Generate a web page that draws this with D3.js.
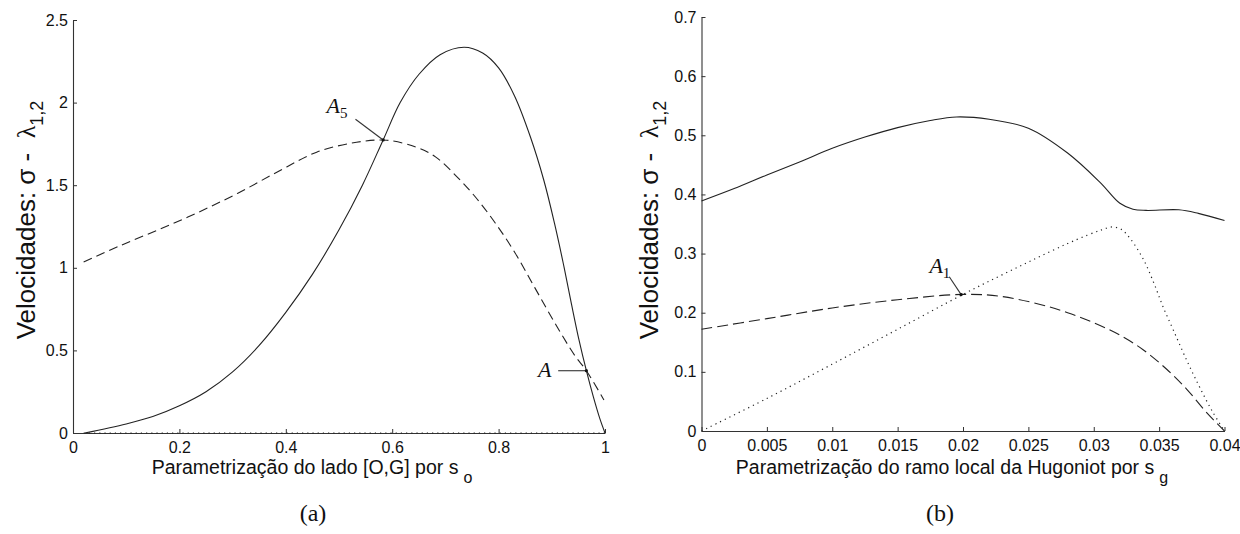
<!DOCTYPE html>
<html>
<head>
<meta charset="utf-8">
<script src="https://cdn.jsdelivr.net/npm/d3@7/dist/d3.min.js"></script>
<style>
  body { margin: 0; background: #fff; }
  svg text { fill: #111; }
</style>
</head>
<body>
<svg id="fig" width="1240" height="534"></svg>
<script>
var SANS = "Liberation Sans, Arial, sans-serif";
var SERIF = "Liberation Serif, Times New Roman, serif";

// ---- panel (a): lado [O,G]
var aTicksX = [0, 0.2, 0.4, 0.6, 0.8, 1];
var aTicksY = [0, 0.5, 1, 1.5, 2, 2.5];
var aSolidX = [0.022, 0.1, 0.15, 0.2, 0.25, 0.3, 0.35, 0.4, 0.45, 0.5, 0.544, 0.583, 0.615, 0.65, 0.69, 0.735, 0.77, 0.8, 0.83, 0.86, 0.885, 0.905, 0.922, 0.937, 0.951, 0.965, 0.978, 0.99, 1.0];
var aSolidY = [0, 0.055, 0.1, 0.165, 0.25, 0.37, 0.53, 0.73, 0.96, 1.23, 1.5, 1.774, 2.0, 2.17, 2.29, 2.335, 2.30, 2.21, 2.04, 1.79, 1.53, 1.27, 1.02, 0.78, 0.565, 0.377, 0.22, 0.09, 0];
var aDashX = [0.02, 0.086, 0.16, 0.235, 0.309, 0.384, 0.458, 0.533, 0.59, 0.645, 0.682, 0.719, 0.756, 0.794, 0.831, 0.868, 0.905, 0.943, 0.965, 0.998];
var aDashY = [1.035, 1.13, 1.23, 1.335, 1.45, 1.58, 1.70, 1.76, 1.772, 1.73, 1.67, 1.56, 1.43, 1.27, 1.09, 0.88, 0.67, 0.47, 0.377, 0.20];
var aDotX = [0.02, 1.0];
var aDotY = [0, 0];

// ---- panel (b): ramo local da Hugoniot
var bTicksX = [0, 0.005, 0.01, 0.015, 0.02, 0.025, 0.03, 0.035, 0.04];
var bTicksY = [0, 0.1, 0.2, 0.3, 0.4, 0.5, 0.6, 0.7];
var bSolidX = [0, 0.0025, 0.005, 0.0075, 0.01, 0.0125, 0.015, 0.0175, 0.0195, 0.022, 0.025, 0.028, 0.0305, 0.032, 0.033, 0.034, 0.0365, 0.038, 0.04];
var bSolidY = [0.389, 0.41, 0.433, 0.455, 0.478, 0.497, 0.513, 0.525, 0.531, 0.527, 0.512, 0.47, 0.42, 0.385, 0.375, 0.373, 0.374, 0.368, 0.356];
var bDashX = [0, 0.005, 0.01, 0.015, 0.02, 0.0228, 0.0259, 0.028, 0.03, 0.032, 0.0338, 0.0356, 0.0371, 0.0386, 0.04];
var bDashY = [0.172, 0.19, 0.208, 0.222, 0.231, 0.228, 0.214, 0.2, 0.183, 0.162, 0.137, 0.104, 0.071, 0.032, 0];
var bDotX = [0, 0.005, 0.01, 0.015, 0.02, 0.0228, 0.0254, 0.0279, 0.0295, 0.0306, 0.0314, 0.0321, 0.0328, 0.0338, 0.0346, 0.0353, 0.0361, 0.0371, 0.0381, 0.0391, 0.04];
var bDotY = [0, 0.055, 0.113, 0.172, 0.231, 0.262, 0.29, 0.316, 0.331, 0.340, 0.345, 0.341, 0.325, 0.29, 0.25, 0.21, 0.17, 0.12, 0.074, 0.032, 0];

// annotations: [label, subscript, text x, text y, line from x, y, to x, y]
var aNotes = [
  ["A", "5", 0.4765, 1.939, 0.531, 1.899, 0.583, 1.774],
  ["A", "",  0.874, 0.34, 0.912, 0.377, 0.965, 0.377]
];
var bNotes = [
  ["A", "1", 0.01743, 0.2666, 0.01895, 0.2608, 0.01986, 0.2306]
];

var svg = d3.select("#fig");

function zip(xs, ys) {
  return xs.map(function(x, i) { return [x, ys[i]]; });
}

function panel(opt) {
  var x = d3.scaleLinear().domain(opt.xDomain).range(opt.xRange);
  var y = d3.scaleLinear().domain(opt.yDomain).range(opt.yRange);
  var g = svg.append("g");

  var line = d3.line()
      .x(function(d) { return x(d[0]); })
      .y(function(d) { return y(d[1]); })
      .curve(d3.curveCatmullRom.alpha(0.5));

  // axes, ticks pointing inward (matlab style, no box)
  var xAxis = g.append("g")
      .attr("transform", "translate(0," + opt.yRange[0] + ")")
      .call(d3.axisBottom(x).tickValues(opt.ticksX).tickSizeInner(-4).tickSizeOuter(0)
        .tickPadding(9).tickFormat(d3.format("~g")));
  var yAxis = g.append("g")
      .attr("transform", "translate(" + opt.xRange[0] + ",0)")
      .call(d3.axisLeft(y).tickValues(opt.ticksY).tickSizeInner(-4).tickSizeOuter(0)
        .tickPadding(5).tickFormat(d3.format("~g")));
  [xAxis, yAxis].forEach(function(a) {
    a.select(".domain").attr("stroke", "#333").attr("stroke-width", 1.1);
    a.selectAll(".tick line").attr("stroke", "#333");
    a.selectAll(".tick text").style("font-size", "16px")
        .style("font-family", SANS).attr("fill", "#111");
  });

  g.append("path").datum(opt.dot).attr("d", line)
      .attr("fill", "none").attr("stroke", "#222").attr("stroke-width", 1.2)
      .attr("stroke-dasharray", "1.2,4");
  g.append("path").datum(opt.dash).attr("d", line)
      .attr("fill", "none").attr("stroke", "#222").attr("stroke-width", 1.1)
      .attr("stroke-dasharray", opt.dashPattern);
  g.append("path").datum(opt.solid).attr("d", line)
      .attr("fill", "none").attr("stroke", "#222").attr("stroke-width", 1.1);

  opt.notes.forEach(function(n) {
    g.append("line")
        .attr("x1", x(n[4])).attr("y1", y(n[5]))
        .attr("x2", x(n[6])).attr("y2", y(n[7]))
        .attr("stroke", "#333").attr("stroke-width", 1.1);
    g.append("circle").attr("cx", x(n[6])).attr("cy", y(n[7])).attr("r", 1.6).attr("fill", "#111");
    var t = g.append("text")
        .attr("x", x(n[2])).attr("y", y(n[3]))
        .style("font-family", SERIF)
        .style("font-style", "italic").style("font-size", "22px")
        .text(n[0]);
    if (n[1]) {
      t.append("tspan").attr("dy", 5).style("font-size", "15px").style("font-style", "normal").text(n[1]);
    }
  });

  // x label with subscript
  var xl = g.append("text")
      .attr("x", opt.xLabelPos[0]).attr("y", opt.xLabelPos[1])
      .attr("text-anchor", "middle")
      .style("font-family", SANS).style("font-size", "19.5px")
      .text(opt.xLabel);
  xl.append("tspan").attr("dx", 5).attr("dy", 9).style("font-size", "16px").text(opt.xSub);

  // y label
  var yl = g.append("text")
      .attr("transform", "translate(" + opt.yLabelPos[0] + "," + opt.yLabelPos[1] + ") rotate(-90)")
      .attr("text-anchor", "middle")
      .style("font-family", SANS).style("font-size", "26px")
      .style("white-space", "pre");
  yl.append("tspan").text("Velocidades: \u03c3 -\u00a0\u00a0");
  yl.append("tspan").style("font-family", SERIF).text("\u03bb");
  yl.append("tspan").attr("dy", 8).style("font-size", "18px").text("1,2");

  // caption
  g.append("text")
      .attr("x", opt.captionPos[0]).attr("y", opt.captionPos[1])
      .attr("text-anchor", "middle")
      .style("font-family", SERIF).style("font-size", "24px")
      .text(opt.caption);
}

panel({
  xDomain: [0, 1], yDomain: [0, 2.5],
  xRange: [73, 605], yRange: [433, 20],
  ticksX: aTicksX, ticksY: aTicksY,
  solid: zip(aSolidX, aSolidY), dash: zip(aDashX, aDashY), dot: zip(aDotX, aDotY),
  dashPattern: "9,5",
  notes: aNotes,
  xLabel: "Parametrização do lado [O,G] por s", xSub: "o", xLabelPos: [312, 474],
  yLabelPos: [35, 220],
  caption: "(a)", captionPos: [313, 521]
});

panel({
  xDomain: [0, 0.04], yDomain: [0, 0.7],
  xRange: [701.5, 1224.5], yRange: [431, 17],
  ticksX: bTicksX, ticksY: bTicksY,
  solid: zip(bSolidX, bSolidY), dash: zip(bDashX, bDashY), dot: zip(bDotX, bDotY),
  dashPattern: "11,5",
  notes: bNotes,
  xLabel: "Parametrização do ramo local da Hugoniot por s", xSub: "g", xLabelPos: [952, 474],
  yLabelPos: [658, 220],
  caption: "(b)", captionPos: [940, 521]
});
</script>
</body>
</html>
